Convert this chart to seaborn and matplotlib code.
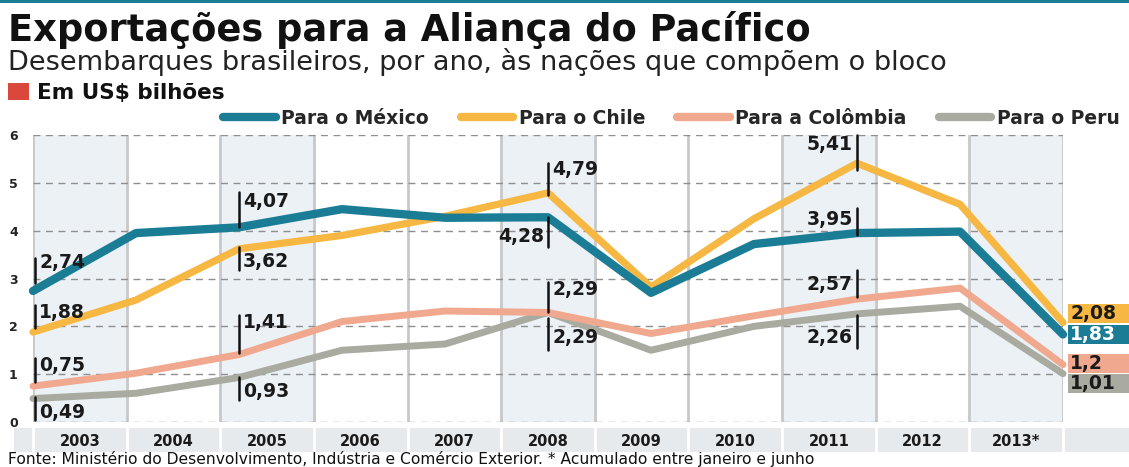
import numpy as np
import pandas as pd
import matplotlib
matplotlib.use('Agg')
import matplotlib.pyplot as plt
import seaborn as sns
from matplotlib.patches import Rectangle

# data (US$ bilhões)
years = ['2003', '2004', '2005', '2006', '2007', '2008', '2009', '2010', '2011', '2012', '2013*']
mexico = [2.74, 3.95, 4.07, 4.45, 4.27, 4.28, 2.70, 3.72, 3.95, 3.98, 1.83]
chile = [1.88, 2.55, 3.62, 3.90, 4.30, 4.79, 2.82, 4.25, 5.41, 4.55, 2.08]
colombia = [0.75, 1.02, 1.41, 2.10, 2.32, 2.29, 1.85, 2.22, 2.57, 2.80, 1.20]
peru = [0.49, 0.60, 0.93, 1.50, 1.63, 2.29, 1.50, 2.00, 2.26, 2.42, 1.01]
series_names = ['Para o México', 'Para o Chile', 'Para a Colômbia', 'Para o Peru']
series_values = [mexico, chile, colombia, peru]

# styling / layout
colors = ['#1a7d95', '#f6b843', '#f0a88e', '#a9aba0']
widths = [6.0, 5.2, 5.0, 5.0]
shaded_cols = [0, 2, 5, 8, 10]
# (series, year, tick bottom, tick top, text y, side)
callouts = [
    (0, 0, 2.91, 3.43, 3.33, 'r'),
    (1, 0, 1.97, 2.45, 2.28, 'r'),
    (2, 0, 0.84, 1.34, 1.19, 'r'),
    (3, 0, 0.04, 0.52, 0.19, 'r'),
    (0, 2, 4.08, 4.81, 4.60, 'r'),
    (1, 2, 3.18, 3.66, 3.35, 'r'),
    (2, 2, 1.44, 2.24, 2.09, 'r'),
    (3, 2, 0.46, 0.94, 0.63, 'r'),
    (1, 5, 4.75, 5.42, 5.27, 'r'),
    (0, 5, 3.66, 4.29, 3.87, 'l'),
    (2, 5, 2.30, 2.93, 2.76, 'r'),
    (3, 5, 1.50, 2.18, 1.76, 'r'),
    (1, 8, 5.27, 6.00, 5.80, 'l'),
    (0, 8, 3.91, 4.48, 4.23, 'l'),
    (2, 8, 2.62, 3.18, 2.87, 'l'),
    (3, 8, 1.55, 2.24, 1.76, 'l'),
]
end_label_y = [1.83, 2.27, 1.22, 0.80]


def fmt(v):
    return ('%g' % v).replace('.', ',')


W, H = 1129, 467
sns.set_style('white')
plt.rcParams['font.family'] = ['DejaVu Sans']
fig = plt.figure(figsize=(W / 100, H / 100), dpi=100)
fig.patch.set_facecolor('white')


def fx(px):
    return px / W


def fy(py):
    return 1 - py / H


ax = fig.add_axes([fx(33), fy(422), fx(1063) - fx(33), fy(135) - fy(422)])
ax.set_facecolor('none')

n = len(years)
bounds = np.linspace(0, n - 1, n + 1)
centers = (bounds[:-1] + bounds[1:]) / 2

for c in shaded_cols:
    ax.axvspan(bounds[c], bounds[c + 1], color='#ecf1f6', zorder=0.1, lw=0)
for b in bounds:
    ax.axvline(b, color='#c8c8c8', lw=2, zorder=0.3)

idx = np.arange(n)
for i, (name, vals) in enumerate(zip(series_names, series_values)):
    sns.lineplot(x=idx, y=vals, ax=ax, color=colors[i], lw=widths[i],
                 label=name, zorder=6 - i)
for line in ax.get_lines()[-4:]:
    line.set_clip_on(False)
    line.set_solid_capstyle('round')

# callouts
for s, yi, y0, y1, ty, side in callouts:
    x = yi + (0.02 if yi == 0 else 0)
    ax.plot([x, x], [y0, y1], color='#111111', lw=1.8, zorder=8, clip_on=False)
    dx = 0.04 if side == 'r' else -0.04
    ax.text(x + dx, ty, fmt(series_values[s][yi]), ha='left' if side == 'r' else 'right',
            va='center', fontsize=13.5, fontweight='bold', color='#1a1a1a', zorder=9)

# end labels: coloured strips running off the right edge
for i, vals in enumerate(series_values):
    yc = end_label_y[i]
    ax.add_patch(Rectangle((10.05, yc - 0.2), 1.0, 0.4, fc=colors[i], ec='none',
                           clip_on=False, zorder=8))
    ax.text(10.07, yc, fmt(vals[-1]), ha='left', va='center',
            fontsize=13.5, fontweight='bold',
            color='white' if i == 0 else '#1a1a1a', zorder=9, clip_on=False)

ax.set_xlim(0, n - 1)
ax.set_ylim(0, 6)
ax.set_yticks(range(7))
ax.set_xticks(centers)
ax.set_xticklabels(years)
ax.tick_params(axis='y', length=0, pad=11, labelsize=9, labelcolor='#222222')
ax.tick_params(axis='x', length=0, pad=9, labelsize=10.5, labelcolor='#1a1a1a')
for lab in ax.get_xticklabels() + ax.get_yticklabels():
    lab.set_fontweight('bold')
ax.set_axisbelow(True)
ax.grid(axis='y', color='#8f8f8f', linestyle=(0, (5, 4)), lw=1)
ax.grid(axis='x', visible=False)
for sp in ax.spines.values():
    sp.set_visible(False)
ax.set_xlabel('')
ax.set_ylabel('')

# bottom year band
fig.patches.append(Rectangle((fx(14), fy(452)), 1 - fx(14), fy(428) - fy(452),
                             transform=fig.transFigure, fc='#e7eaed', ec='none', zorder=-1))
for b in bounds:
    ax.plot([b, b], [-0.105, -0.022], color='white', lw=2,
            transform=ax.get_xaxis_transform(), clip_on=False, zorder=0)

# top rule and red marker
fig.patches.append(Rectangle((0, fy(3)), 1, fy(0) - fy(3), transform=fig.transFigure,
                             fc='#1a7d95', ec='none'))
fig.patches.append(Rectangle((fx(8), fy(100)), fx(21), fy(83) - fy(100),
                             transform=fig.transFigure, fc='#d9483b', ec='none'))

# legend
leg = ax.legend(loc='center right', bbox_to_anchor=(fx(1127), fy(118)),
                bbox_transform=fig.transFigure, ncol=4, frameon=False,
                borderaxespad=0, handlelength=2.8, handletextpad=0.3,
                columnspacing=1.7, prop={'weight': 'bold', 'size': 13.5})
for hl in leg.get_lines():
    hl.set_linewidth(6)
    hl.set_solid_capstyle('round')

# titles
fig.text(fx(8), fy(41), 'Exportações para a Aliança do Pacífico', ha='left',
         va='baseline', fontsize=26.5, fontweight='heavy', color='#111111')
fig.text(fx(8), fy(70), 'Desembarques brasileiros, por ano, às nações que compõem o bloco',
         ha='left', va='baseline', fontsize=19.5, color='#222222')
fig.text(fx(37), fy(99), 'Em US$ bilhões', ha='left', va='baseline',
         fontsize=15.5, fontweight='bold', color='#111111')
fig.text(fx(8), fy(464), 'Fonte: Ministério do Desenvolvimento, Indústria e Comércio Exterior. '
         '* Acumulado entre janeiro e junho', ha='left', va='baseline', fontsize=11.2,
         color='#111111')

fig.savefig('out.png', dpi=100, facecolor='white')
